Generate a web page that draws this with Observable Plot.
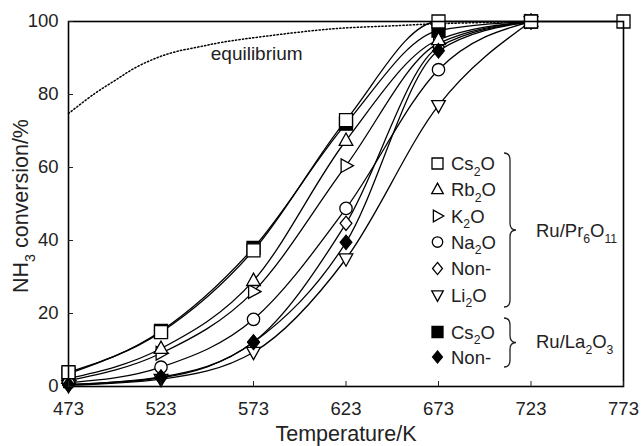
<!DOCTYPE html>
<html><head><meta charset="utf-8">
<script src="https://cdn.jsdelivr.net/npm/d3@7"></script>
<script src="https://cdn.jsdelivr.net/npm/@observablehq/plot@0.6"></script>
<style>body{margin:0;background:#fff}</style>
</head><body><div id="chart"></div>
<script>
// ---- data ----
const temps = [473, 523, 573, 623, 673, 723, 773];
const xTicks = [473, 523, 573, 623, 673, 723, 773];
const yTicks = [0, 20, 40, 60, 80, 100];

const eqTemps  = [473, 487, 498, 509, 520, 530, 543, 556, 580, 616, 652, 673, 723];
const eqValues = [74.8, 80.2, 83.8, 87.3, 89.9, 91.6, 93.0, 94.3, 96.0, 98.0, 98.9, 99.4, 100];

const cs2oPr = [3.9, 14.9, 37.3, 73, 100, 100, 100];
const rb2oPr = [2.2, 10.4, 29, 67.4, 95, 100];
const k2oPr  = [1.6, 9.1, 26, 60.5, 94, 100];
const na2oPr = [1.0, 5.3, 18.4, 48.8, 86.8, 100];
const nonPr  = [0.5, 2.6, 12.2, 44.7, 93, 100];
const li2oPr = [0.3, 2.0, 9.4, 35, 77, 100];
const cs2oLa = [3.5, 15.2, 38, 72, 97.5, 100];
const nonLa  = [0.5, 2.4, 12.1, 39.5, 92, 100];

const FONT = '"Liberation Sans", Arial, Helvetica, sans-serif';

// ---- symbols ----
function shape(kind, h) {
  return {draw(c) {
    switch (kind) {
      case "square": c.moveTo(-h, -h); c.lineTo(h, -h); c.lineTo(h, h); c.lineTo(-h, h); c.closePath(); break;
      case "up": c.moveTo(0, -h * 1.15); c.lineTo(h * 1.05, h * 0.75); c.lineTo(-h * 1.05, h * 0.75); c.closePath(); break;
      case "down": c.moveTo(0, h * 1.15); c.lineTo(h * 1.05, -h * 0.75); c.lineTo(-h * 1.05, -h * 0.75); c.closePath(); break;
      case "right": c.moveTo(h * 1.15, 0); c.lineTo(-h * 0.75, h * 1.05); c.lineTo(-h * 0.75, -h * 1.05); c.closePath(); break;
      case "circle": c.moveTo(h * 0.95, 0); c.arc(0, 0, h * 0.95, 0, 2 * Math.PI); c.closePath(); break;
      case "diamond": c.moveTo(0, -h * 1.1); c.lineTo(h * 0.9, 0); c.lineTo(0, h * 1.1); c.lineTo(-h * 0.9, 0); c.closePath(); break;
    }
  }};
}

// drawing order: later entries sit on top
const series = [
  {key: "cs2oLa", values: cs2oLa, kind: "square", filled: true},
  {key: "li2oPr", values: li2oPr, kind: "down", filled: false},
  {key: "na2oPr", values: na2oPr, kind: "circle", filled: false},
  {key: "nonPr", values: nonPr, kind: "diamond", filled: false},
  {key: "k2oPr", values: k2oPr, kind: "right", filled: false},
  {key: "rb2oPr", values: rb2oPr, kind: "up", filled: false},
  {key: "nonLa", values: nonLa, kind: "diamond", filled: true},
  {key: "cs2oPr", values: cs2oPr, kind: "square", filled: false}
];
const rowsOf = s => s.values.map((v, i) => ({T: temps[i], v}));
const eqRows = eqTemps.map((T, i) => ({T, v: eqValues[i]}));

const marks = [
  Plot.line(eqRows, {x: "T", y: "v", curve: "catmull-rom", stroke: "black", strokeWidth: 1.5, strokeDasharray: "1.3,2.2"})
];
for (const s of series) marks.push(Plot.line(rowsOf(s), {x: "T", y: "v", curve: "monotone-x", stroke: "black", strokeWidth: 1.3}));
for (const s of series) marks.push(Plot.dot(rowsOf(s), {x: "T", y: "v", symbol: shape(s.kind, 6.5), fill: s.filled ? "black" : "white", stroke: "black", strokeWidth: 1.3}));
marks.push(
  Plot.frame({stroke: "black", strokeWidth: 1.6}),
  Plot.axisX({ticks: xTicks, tickSize: -5, tickPadding: 20, label: null, tickFormat: d => String(d)}),
  Plot.axisY({ticks: yTicks, tickSize: -5, tickPadding: 15, label: null})
);

const svg = Plot.plot({
  width: 642, height: 446,
  marginLeft: 68, marginRight: 19, marginTop: 21, marginBottom: 60,
  style: {fontFamily: FONT, fontSize: "18.5px", color: "#222", background: "white"},
  x: {domain: [473, 773]},
  y: {domain: [0, 100]},
  marks
});

// ---- annotations ----
const sel = d3.select(svg);
const xs = svg.scale("x");
const ink = "#222";

function rich(g, x, y, parts, size, anchor = "start") {
  const t = g.append("text").attr("x", x).attr("y", y).attr("font-size", size)
    .attr("text-anchor", anchor).attr("fill", ink).attr("font-family", FONT);
  let shifted = false;
  for (const [txt, sub] of parts) {
    const sp = t.append("tspan").text(txt);
    if (sub && !shifted) { sp.attr("dy", size * 0.32).attr("font-size", size * 0.66); shifted = true; }
    else if (sub) { sp.attr("font-size", size * 0.66); }
    else if (shifted) { sp.attr("dy", -size * 0.32); shifted = false; }
  }
  return t;
}

// equilibrium label
rich(sel, xs.apply(575), 60, [["equilibrium"]], 19, "middle");

// axis titles
rich(sel, 346, 441, [["Temperature/K"]], 21.5, "middle");
const yt = sel.append("g").attr("transform", "translate(28,206) rotate(-90)");
rich(yt, 0, 0, [["NH"], ["3", true], [" conversion/%"]], 21.5, "middle");

// legend
const lg = sel.append("g");
const legendRows = [
  {y: 163.5, kind: "square", filled: false, parts: [["Cs"], ["2", true], ["O"]]},
  {y: 189.5, kind: "up", filled: false, parts: [["Rb"], ["2", true], ["O"]]},
  {y: 216, kind: "right", filled: false, parts: [["K"], ["2", true], ["O"]]},
  {y: 242, kind: "circle", filled: false, parts: [["Na"], ["2", true], ["O"]]},
  {y: 268.5, kind: "diamond", filled: false, parts: [["Non-"]]},
  {y: 295, kind: "down", filled: false, parts: [["Li"], ["2", true], ["O"]]},
  {y: 332, kind: "square", filled: true, parts: [["Cs"], ["2", true], ["O"]]},
  {y: 357, kind: "diamond", filled: true, parts: [["Non-"]]}
];
for (const r of legendRows) {
  const p = d3.path(); shape(r.kind, 5.5).draw(p);
  lg.append("path").attr("d", p.toString()).attr("transform", `translate(437.5,${r.y})`)
    .attr("fill", r.filled ? "black" : "white").attr("stroke", "black").attr("stroke-width", 1.3);
  rich(lg, 451, r.y + 6.5, r.parts, 18.5);
}
function brace(x, y0, y1, w) {
  const m = (y0 + y1) / 2, r = 7, xm = x + w / 2;
  return `M${x},${y0} Q${xm},${y0} ${xm},${y0 + r} L${xm},${m - r} Q${xm},${m} ${x + w},${m} Q${xm},${m} ${xm},${m + r} L${xm},${y1 - r} Q${xm},${y1} ${x},${y1}`;
}
lg.append("path").attr("d", brace(504, 153, 307, 12)).attr("fill", "none").attr("stroke", ink).attr("stroke-width", 1.3);
lg.append("path").attr("d", brace(504, 318, 367, 12)).attr("fill", "none").attr("stroke", ink).attr("stroke-width", 1.3);
rich(lg, 536, 237, [["Ru/Pr"], ["6", true], ["O"], ["11", true]], 18.5);
rich(lg, 536, 348, [["Ru/La"], ["2", true], ["O"], ["3", true]], 18.5);

document.getElementById("chart").appendChild(svg);
</script>
</body></html>
